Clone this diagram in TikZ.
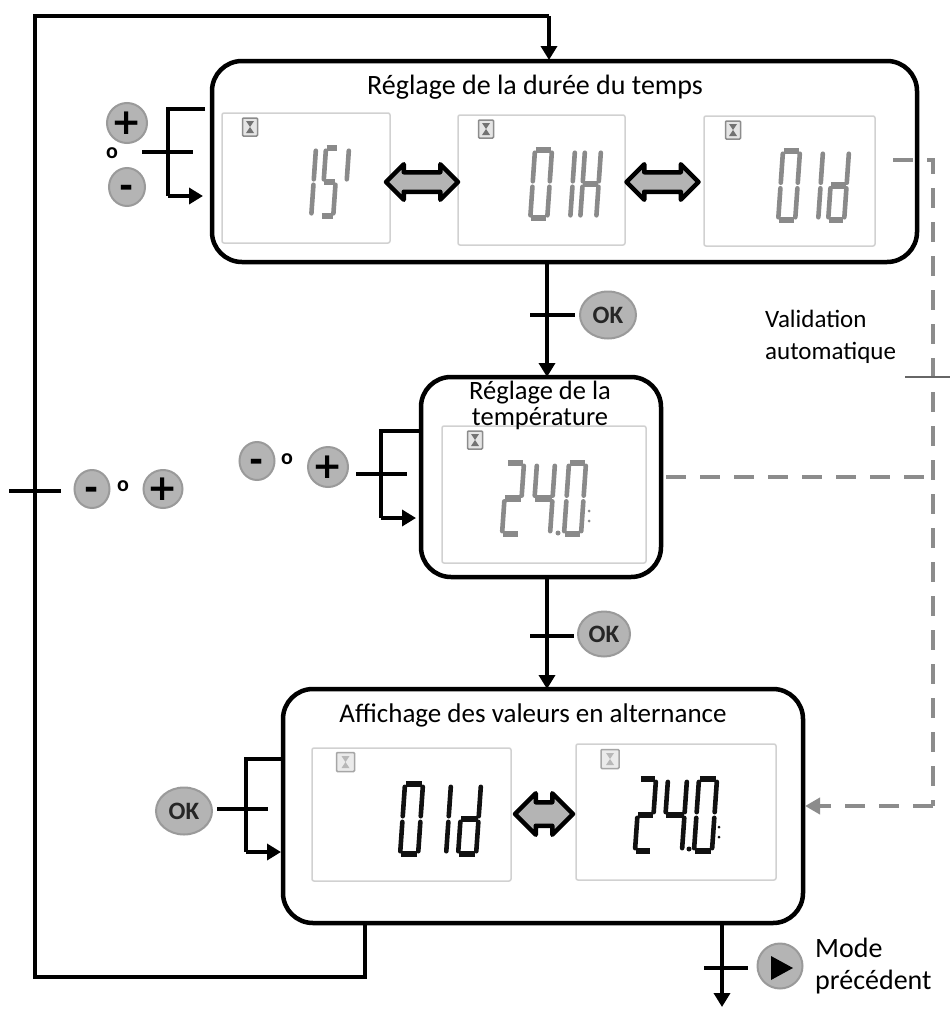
\documentclass[tikz,border=0pt]{standalone}
\usepackage{fontspec}
\setmainfont{Carlito}
\newfontfamily\djv{DejaVu Sans}
\usetikzlibrary{arrows.meta,shapes.arrows,shapes.geometric}
\definecolor{btn}{HTML}{B4B4B4}
\definecolor{btnedge}{HTML}{9A9A9A}
\definecolor{dashgray}{HTML}{8C8C8C}
\definecolor{lcdg}{HTML}{8A8A8A}
\definecolor{lcdk}{HTML}{111111}
\tikzset{
  mainbox/.style={draw=black,line width=4.5pt,rounded corners=30pt,inner sep=0,outer sep=0,fill=white},
  lcd/.style={draw=black!18,line width=1.5pt,rounded corners=2pt,inner sep=0,outer sep=0,fill=white},
  wire/.style={line width=4.5pt,black,line join=miter},
  wirearrow/.style={wire,-{Triangle[length=14pt,width=16pt]}},
  dashwire/.style={line width=4.5pt,draw=dashgray,dash pattern=on 20pt off 14pt},
  dasharrow/.style={dashwire,-{Triangle[length=15pt,width=16pt]}},
  tick/.style={line width=4.5pt,black},
  dashtick/.style={line width=2.5pt,draw=black!60},
  roundbtn/.style={draw=btnedge,line width=2pt,fill=btn,ellipse,inner sep=0,outer sep=0},
  title/.style={font=\fontsize{28}{30}\selectfont,inner sep=0,align=center},
  side/.style={font=\fontsize{25}{32}\selectfont,inner sep=0,align=left,anchor=west},
  oklab/.style={font=\fontsize{25}{25}\bfseries\selectfont,inner sep=0,text=black!85},
  plab/.style={font=\djv\fontsize{36}{36}\bfseries\selectfont,inner sep=0},
  mlab/.style={font=\djv\fontsize{34}{34}\bfseries\selectfont,inner sep=0,yshift=-4pt},
  olab/.style={font=\fontsize{22}{22}\bfseries\selectfont,inner sep=0},
  dbl/.style={double arrow,draw=black,line width=4.5pt,line join=round,fill=btn,inner xsep=0,outer sep=0},
  hourglass/.style={draw=black!45,line width=1.5pt,fill=black!10,rounded corners=1pt,minimum width=15pt,minimum height=18pt,inner sep=0,outer sep=0}
}
\newcommand\sega{\draw[hz] (.05,0)--(.95,0);}
\newcommand\segb{\draw[vt] (1,.04)--(1,.46);}
\newcommand\segc{\draw[vt] (1,.54)--(1,.96);}
\newcommand\segd{\draw[hz] (.05,1)--(.95,1);}
\newcommand\sege{\draw[vt] (0,.54)--(0,.96);}
\newcommand\segf{\draw[vt] (0,.04)--(0,.46);}
\newcommand\segg{\draw[hz] (.05,.5)--(.95,.5);}
% x y w h segments colour hzwidth vtwidth
\newcommand\lcddigit[6]{%
  \pgfmathsetmacro\lcdslant{-.07*#4}%
  \begin{scope}[shift={(#1,#2)},x={(#3pt,0pt)},y={(\lcdslant pt,-#4pt)},
      hz/.style={#6,line width=6.5pt},vt/.style={#6,line width=4.6pt,line cap=round}]
    \foreach \s in {#5}{\csname seg\s\endcsname}
  \end{scope}}
% name x y
\newcommand\glass[3]{%
  \node[hourglass] (#1) at (#2,#3) {};
  \fill[black!55] (#2-4,#3-6) -- (#2+4,#3-6) -- (#2,#3) -- cycle;
  \fill[black!55] (#2-4,#3+6) -- (#2+4,#3+6) -- (#2,#3) -- cycle;}
\newcommand\glasslight[3]{%
  \node[hourglass,minimum width=18pt,minimum height=19pt,draw=black!35,fill=black!8] (#1) at (#2,#3) {};
  \fill[black!28] (#2-4,#3-6) -- (#2+4,#3-6) -- (#2,#3) -- cycle;
  \fill[black!28] (#2-4,#3+6) -- (#2+4,#3+6) -- (#2,#3) -- cycle;}
\begin{document}
\begin{tikzpicture}[x=1pt,y=-1pt]
\useasboundingbox (0,0) rectangle (951,1009);
\fill[white] (0,0) rectangle (951,1009);

% named free points
\coordinate (fbtop) at (549,60);
\coordinate (fbtopc) at (549,16);
\coordinate (fbtl) at (35,16);
\coordinate (fbbl) at (35,977);
\coordinate (fbbr) at (365,977);
\coordinate (fbstart) at (365,923);
\coordinate (auto1) at (893,160);
\coordinate (auto1c) at (933,160);
\coordinate (auto2) at (666,477);
\coordinate (auto2c) at (933,477);
\coordinate (autoc) at (933,806);
\coordinate (autoend) at (805,806);

% main boxes
\node[mainbox,minimum width=705pt,minimum height=201pt] (b1) at (564.5,161.5) {};
\node[mainbox,minimum width=240pt,minimum height=200pt] (b2) at (541,477) {};
\node[mainbox,minimum width=520pt,minimum height=234pt] (b3) at (543,806) {};

% feedback loop
\draw[wire] (fbstart) -- (fbbr) -- (fbbl) -- (fbtl) -- (fbtopc);
\draw[wirearrow] (fbtopc) -- (fbtop);

% downward links
\coordinate (b1out) at (547,262);
\coordinate (b2in) at (547,377);
\coordinate (b2out) at (547,577);
\coordinate (b3in) at (547,689);
\coordinate (b3out) at (722,923);
\coordinate (exit) at (722,1007);
\draw[wirearrow] (b1out) -- (b2in);
\draw[wirearrow] (b2out) -- (b3in);
\draw[wirearrow] (b3out) -- (exit);

% automatic validation
\draw[dashwire] (auto1) -- (auto1c) -- (autoc);
\draw[dashwire] (auto2) -- (auto2c);
\draw[dasharrow] (autoc) -- (autoend);

% displays
\node[lcd,minimum width=168pt,minimum height=130pt] (d1) at (306,178) {};
\node[lcd,minimum width=167pt,minimum height=130pt] (d2) at (541.5,180) {};
\node[lcd,minimum width=171pt,minimum height=130pt] (d3) at (789.5,181) {};
\node[lcd,minimum width=204pt,minimum height=137pt] (d4) at (544,494.5) {};
\node[lcd,minimum width=199pt,minimum height=133pt] (d5) at (411.5,814.5) {};
\node[lcd,minimum width=200pt,minimum height=136pt] (d6) at (676,812) {};
\glass{g1}{250}{127}
\glass{g2}{486}{129}
\glass{g3}{733}{130}
\glass{g4}{475}{440}
\glasslight{g5}{345.5}{762}
\glasslight{g6}{610}{759}

% digits
\lcddigit{315}{148}{1}{68}{b,c}{lcdg}
\lcddigit{326}{148}{12}{68}{a,f,g,c,d}{lcdg}
\lcddigit{348}{148}{1}{68}{b}{lcdg}
\lcddigit{535}{150}{17}{68}{a,b,c,d,e,f}{lcdg}
\lcddigit{574}{150}{1}{68}{b,c}{lcdg}
\lcddigit{585}{150}{16}{68}{b,c,e,f,g}{lcdg}
\lcddigit{783}{151}{17}{69}{a,b,c,d,e,f}{lcdg}
\lcddigit{822}{151}{1}{69}{b,c}{lcdg}
\lcddigit{833}{151}{16}{69}{b,c,d,e,g}{lcdg}
\lcddigit{507}{463}{17}{71}{a,b,g,e,d}{lcdg}
\lcddigit{537}{463}{18}{71}{b,c,f,g}{lcdg}
\lcddigit{569}{463}{17}{71}{a,b,c,d,e,f}{lcdg}
\fill[lcdg] (558,533) circle (2.5pt) (589,511) circle (1.5pt) (589,521) circle (1.5pt);
\lcddigit{405}{784}{18}{70}{a,b,c,d,e,f}{lcdk}
\lcddigit{450}{784}{1}{70}{b,c}{lcdk}
\lcddigit{463}{784}{18}{70}{b,c,d,e,g}{lcdk}
\lcddigit{640}{779}{16}{72}{a,b,g,e,d}{lcdk}
\lcddigit{668}{779}{19}{72}{b,c,f,g}{lcdk}
\lcddigit{699}{779}{18}{72}{a,b,c,d,e,f}{lcdk}
\fill[lcdk] (689,849) circle (2.5pt) (719,827) circle (1.5pt) (719,837) circle (1.5pt);

% double arrows
\node[dbl,inner ysep=7.5pt,double arrow head extend=8pt,minimum height=72pt] (a1) at (422,182) {};
\node[dbl,inner ysep=7.5pt,double arrow head extend=8pt,minimum height=72pt] (a2) at (662.5,182) {};
\node[dbl,inner ysep=9.5pt,double arrow head extend=9pt,minimum height=58pt] (a3) at (544,814) {};

% titles
\node[title] (t1) at (535,87) {Réglage de la durée du temps};
\node[title,font=\fontsize{26.5}{26}\selectfont] (t2) at (540,405) {Réglage de la\\température};
\node[title,font=\fontsize{27}{29}\selectfont] (t3) at (533,715) {Affichage des valeurs en alternance};
\node[side] (tv) at (765,337) {Validation\\automatique};
\node[side,font=\fontsize{28}{32}\selectfont] (tm) at (815,966) {Mode\\précédent};

% buttons, box 1
\node[roundbtn,minimum width=40pt,minimum height=40pt] (p1) at (127,123) {};
\node[plab] (p1l) at (p1) {+};
\node[roundbtn,minimum width=36pt,minimum height=38pt] (m1) at (127,187) {};
\node[mlab] (m1l) at (m1) {-};
\node[olab] (o1) at (112,153) {o};
\coordinate (br1a) at (205,109);
\coordinate (br1b) at (168,109);
\coordinate (br1c) at (168,196);
\coordinate (br1d) at (203,196);
\coordinate (cr1a) at (142,152);
\coordinate (cr1b) at (193,152);
\draw[wire] (br1a) -- (br1b) -- (br1c);
\draw[wirearrow] (br1c) -- (br1d);
\draw[tick] (cr1a) -- (cr1b);

% buttons, box 2
\node[roundbtn,minimum width=35pt,minimum height=38pt] (m2) at (257,461) {};
\node[mlab] (m2l) at (m2) {-};
\node[olab] (o2) at (287,459) {o};
\node[roundbtn,minimum width=40pt,minimum height=40pt] (p2) at (328,467) {};
\node[plab] (p2l) at (p2) {+};
\coordinate (br2a) at (421,431);
\coordinate (br2b) at (381,431);
\coordinate (br2c) at (381,518);
\coordinate (br2d) at (416,518);
\coordinate (cr2a) at (356,474);
\coordinate (cr2b) at (407,474);
\draw[wire] (br2a) -- (br2b) -- (br2c);
\draw[wirearrow] (br2c) -- (br2d);
\draw[tick] (cr2a) -- (cr2b);

% buttons, box 3
\node[roundbtn,minimum width=56pt,minimum height=47pt] (ok3) at (184,811) {};
\node[oklab] (ok3l) at (ok3) {OK};
\coordinate (br3a) at (283,759);
\coordinate (br3b) at (246,759);
\coordinate (br3c) at (246,852);
\coordinate (br3d) at (281,852);
\coordinate (cr3a) at (217,809);
\coordinate (cr3b) at (268,809);
\draw[wire] (br3a) -- (br3b) -- (br3c);
\draw[wirearrow] (br3c) -- (br3d);
\draw[tick] (cr3a) -- (cr3b);

% OK conditions
\node[roundbtn,minimum width=56pt,minimum height=47pt] (ok1) at (608,315) {};
\node[oklab] (ok1l) at (ok1) {OK};
\coordinate (c1a) at (530,315);
\coordinate (c1b) at (575,315);
\draw[tick] (c1a) -- (c1b);
\node[roundbtn,minimum width=52pt,minimum height=45pt] (ok2) at (604,634) {};
\node[oklab] (ok2l) at (ok2) {OK};
\coordinate (c2a) at (530,636);
\coordinate (c2b) at (574,636);
\draw[tick] (c2a) -- (c2b);

% left condition
\coordinate (c4a) at (9,491);
\coordinate (c4b) at (61,491);
\draw[tick] (c4a) -- (c4b);
\node[roundbtn,minimum width=35pt,minimum height=38pt] (m4) at (92,489) {};
\node[mlab] (m4l) at (m4) {-};
\node[olab] (o4) at (123,486) {o};
\node[roundbtn,minimum width=39pt,minimum height=38pt] (p4) at (163,489) {};
\node[plab] (p4l) at (p4) {+};

% exit condition
\coordinate (c5a) at (704,968);
\coordinate (c5b) at (748,968);
\draw[tick] (c5a) -- (c5b);
\node[roundbtn,minimum width=45pt,minimum height=45pt] (play) at (780,966) {};
\fill[black] (771,956) -- (793,968) -- (771,980) -- cycle;

% automatic-validation tick
\coordinate (c6a) at (905,377);
\coordinate (c6b) at (950,377);
\draw[dashtick] (c6a) -- (c6b);
\end{tikzpicture}
\end{document}
